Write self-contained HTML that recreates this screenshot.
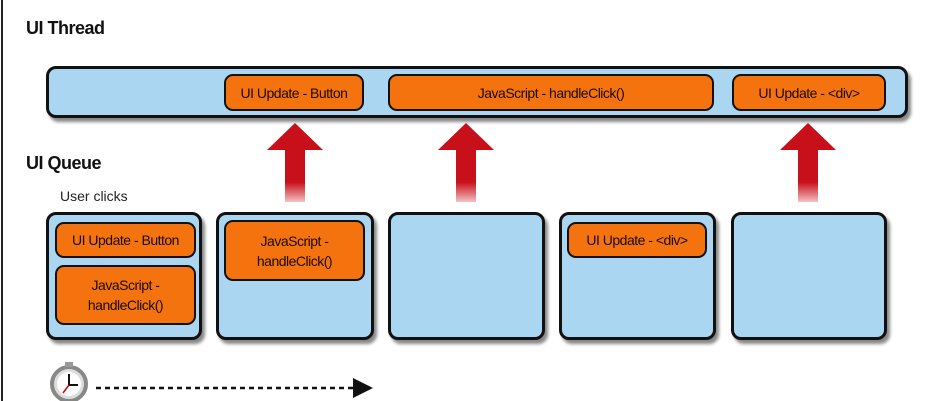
<!DOCTYPE html>
<html><head><style>
body{margin:0;width:933px;height:401px;background:#fff;position:relative;overflow:hidden;font-family:"Liberation Sans",sans-serif}
.a{position:absolute;box-sizing:border-box}
.bar{background:#aad6f2;border:3px solid #111;border-radius:10px;box-shadow:3px 4px 3px #888}
.or{background:#f5730f;border:2.5px solid #111;border-radius:9px;display:flex;align-items:center;justify-content:center;text-align:center;font-size:14px;color:#1a0a00;letter-spacing:-0.5px;line-height:20px}
.lbl{font-weight:bold;font-size:18px;color:#111;letter-spacing:-0.5px}
</style></head><body>
<div class="a" style="left:1px;top:0;width:2px;height:401px;background:#222"></div>
<div class="a lbl" style="left:26px;top:18px">UI Thread</div>
<div class="a lbl" style="left:26px;top:153px">UI Queue</div>
<div class="a" style="left:60px;top:188px;font-size:14px;color:#222">User clicks</div>

<div class="a bar" style="left:46px;top:66px;width:862px;height:52px"></div>
<div class="a or" style="left:224px;top:74px;width:140px;height:37px">UI Update - Button</div>
<div class="a or" style="left:388px;top:74px;width:326px;height:37px">JavaScript - handleClick()</div>
<div class="a or" style="left:732px;top:74px;width:154px;height:37px">UI Update - &lt;div&gt;</div>

<svg class="a" style="left:0;top:0" width="933" height="401">
<defs><linearGradient id="g" x1="0" y1="0" x2="0" y2="1"><stop offset="0" stop-color="#c8101a"/><stop offset="0.75" stop-color="#c8101a"/><stop offset="1" stop-color="#f4c0c4"/></linearGradient>
<marker id="m" markerWidth="8" markerHeight="8" refX="6" refY="4" orient="auto"><path d="M0,0 L8,4 L0,8z" fill="#111"/></marker></defs>
<g fill="url(#g)">
<path d="M295,123 L323,150 L305,150 L305,202 L285,202 L285,150 L267,150z"/>
<path d="M466,123 L494,150 L476,150 L476,202 L456,202 L456,150 L438,150z"/>
<path d="M808,123 L836,150 L818,150 L818,202 L798,202 L798,150 L780,150z"/>
</g>
<circle cx="69" cy="384" r="17" fill="#ddd" stroke="#888" stroke-width="4"/>
<circle cx="69" cy="384" r="12" fill="#fff"/>
<rect x="65" y="362" width="8" height="5" fill="#999"/>
<path d="M69,374 L69,385 L78,385" stroke="#111" stroke-width="2" fill="none"/>
<path d="M69,385 L63,393" stroke="#c00" stroke-width="1.5"/>
<line x1="96" y1="388" x2="368" y2="388" stroke="#111" stroke-width="2.5" stroke-dasharray="5,4" marker-end="url(#m)"/>
</svg>

<div class="a bar" style="left:46px;top:212px;width:156px;height:128px"></div>
<div class="a or" style="left:55px;top:222px;width:141px;height:36px">UI Update - Button</div>
<div class="a or" style="left:55px;top:265px;width:141px;height:60px">JavaScript -<br>handleClick()</div>
<div class="a bar" style="left:216px;top:212px;width:158px;height:128px"></div>
<div class="a or" style="left:224px;top:220px;width:141px;height:61px">JavaScript -<br>handleClick()</div>
<div class="a bar" style="left:388px;top:212px;width:157px;height:128px"></div>
<div class="a bar" style="left:559px;top:212px;width:157px;height:128px"></div>
<div class="a or" style="left:567px;top:222px;width:140px;height:36px">UI Update - &lt;div&gt;</div>
<div class="a bar" style="left:731px;top:212px;width:156px;height:128px"></div>
</body></html>
